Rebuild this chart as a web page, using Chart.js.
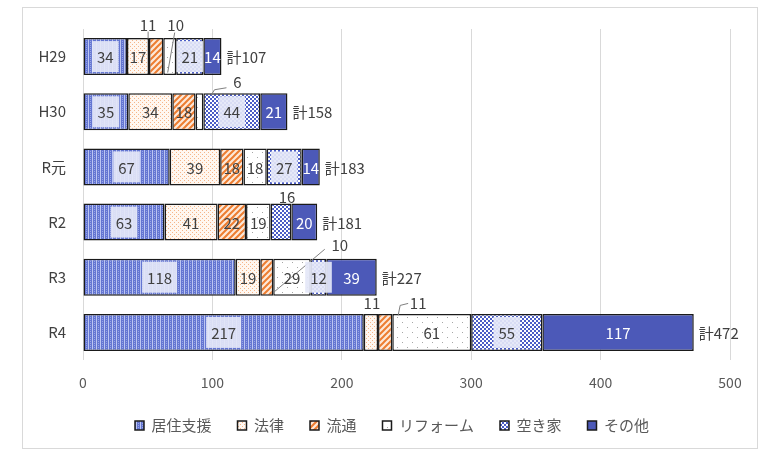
<!DOCTYPE html>
<html>
<head>
<meta charset="utf-8">
<script src="https://cdn.jsdelivr.net/npm/chart.js@4.4.1/dist/chart.umd.min.js"></script>
<style>
  html, body { margin: 0; padding: 0; background: #fff; }
  #wrap { width: 767px; height: 454px; }
</style>
</head>
<body>
<div id="wrap"><canvas id="chart"></canvas></div>
<script>
// values
const years = ['H29', 'H30', 'R元', 'R2', 'R3', 'R4'];
const kyoju = [34, 35, 67, 63, 118, 217];     // 居住支援
const houritsu = [17, 34, 39, 41, 19, 11];    // 法律
const ryutsu = [11, 18, 18, 22, 10, 11];      // 流通
const reform = [10, 6, 18, 19, 29, 61];       // リフォーム
const akiya = [21, 44, 27, 16, 12, 55];       // 空き家
const sonota = [14, 21, 14, 20, 39, 117];     // その他
const xTicks = [0, 100, 200, 300, 400, 500];

const FONT = '"Noto Sans CJK JP", "Noto Sans", sans-serif';

// small helper to build a fill pattern from a tiny tile
function pattern(w, h, draw) {
    const c = document.createElement('canvas');
    c.width = w; c.height = h;
    const g = c.getContext('2d');
    draw(g);
    return g.createPattern(c, 'repeat');
}

const fills = {
    kyoju: pattern(4, 4, g => {
        g.fillStyle = '#6476d2'; g.fillRect(0, 0, 4, 4);
        g.fillStyle = '#bcc5f2'; g.fillRect(0, 0, 1, 4);
        g.fillStyle = '#9aa6e6'; g.fillRect(2, 1, 1, 1); g.fillRect(2, 3, 1, 1);
    }),
    houritsu: pattern(4, 4, g => {
        g.fillStyle = '#fff7f0'; g.fillRect(0, 0, 4, 4);
        g.fillStyle = '#f5b588'; g.fillRect(0, 0, 1, 1); g.fillRect(2, 2, 1, 1);
    }),
    ryutsu: pattern(6, 6, g => {
        g.fillStyle = '#fde9d9'; g.fillRect(0, 0, 6, 6);
        g.strokeStyle = '#ed7d31'; g.lineWidth = 2;
        g.beginPath();
        g.moveTo(-1, 7); g.lineTo(7, -1);
        g.moveTo(-1, 1); g.lineTo(1, -1);
        g.moveTo(5, 7); g.lineTo(7, 5);
        g.stroke();
    }),
    reform: pattern(10, 10, g => {
        g.fillStyle = '#ffffff'; g.fillRect(0, 0, 10, 10);
        g.fillStyle = '#a6a6a6'; g.fillRect(2, 2, 1, 1); g.fillRect(7, 7, 1, 1);
    }),
    akiya: pattern(4, 4, g => {
        g.fillStyle = '#ffffff'; g.fillRect(0, 0, 4, 4);
        g.fillStyle = '#4b5dc6'; g.fillRect(0, 0, 2, 2); g.fillRect(2, 2, 2, 2);
    }),
    sonota: '#4c59b8'
};

// labels that sit outside their segment, offset from the segment centre
const callouts = [
    { ds: 2, idx: 0, dx: -8, dy: -32, line: [[-8, -25], [-8, -18]] },
    { ds: 3, idx: 0, dx: 6, dy: -32, line: [[5, -24], [-2, 16]] },
    { ds: 3, idx: 1, dx: 38, dy: -30, line: [[27, -24], [15, -22], [12, -17]] },
    { ds: 4, idx: 3, dx: 6, dy: -26 },
    { ds: 2, idx: 4, dx: 73, dy: -33, line: [[58, -28], [7, 15]] },
    { ds: 1, idx: 5, dx: 1, dy: -30 },
    { ds: 2, idx: 5, dx: 33, dy: -30, line: [[23, -29], [15, -27], [13, -17]] }
];
const boxed = [true, false, false, false, true, false];
const labelColors = ['#404040', '#404040', '#404040', '#404040', '#404040', '#ffffff'];

const segLabels = {
    id: 'segLabels',
    afterDatasetsDraw(chart) {
        const ctx = chart.ctx;
        ctx.save();
        ctx.font = '15px ' + FONT;
        ctx.textAlign = 'center';
        ctx.textBaseline = 'middle';
        chart.data.datasets.forEach((ds, i) => {
            const meta = chart.getDatasetMeta(i);
            meta.data.forEach((el, j) => {
                const p = el.getProps(['x', 'y', 'base', 'height'], true);
                const cx = (p.x + p.base) / 2;
                const c = callouts.find(o => o.ds === i && o.idx === j);
                const txt = String(ds.data[j]);
                let lx = cx, ly = p.y;
                if (c) {
                    lx += c.dx; ly += c.dy;
                    if (c.line) {
                        ctx.strokeStyle = '#808080';
                        ctx.lineWidth = 1;
                        ctx.beginPath();
                        c.line.forEach((pt, k) => {
                            const fn = k === 0 ? 'moveTo' : 'lineTo';
                            ctx[fn](cx + pt[0], p.y + pt[1]);
                        });
                        ctx.stroke();
                    }
                } else if (boxed[i]) {
                    const w = ctx.measureText(txt).width;
                    ctx.fillStyle = 'rgba(228,231,247,0.92)';
                    ctx.fillRect(lx - w / 2 - 5, p.y - p.height / 2 + 3, w + 10, p.height - 6);
                }
                ctx.fillStyle = c ? '#404040' : labelColors[i];
                ctx.fillText(txt, lx, ly + 1);
            });
        });

        // totals to the right of each bar
        const last = chart.getDatasetMeta(chart.data.datasets.length - 1);
        ctx.textAlign = 'left';
        ctx.fillStyle = '#404040';
        last.data.forEach((el, j) => {
            const total = chart.data.datasets.reduce((s, d) => s + d.data[j], 0);
            ctx.fillText('計' + total, el.x + 5, el.y + 1);
        });
        ctx.restore();
    }
};

const frame = {
    id: 'frame',
    beforeDraw(chart) {
        const ctx = chart.ctx;
        ctx.save();
        ctx.fillStyle = '#ffffff';
        ctx.fillRect(0, 0, chart.width, chart.height);
        ctx.strokeStyle = '#d9d9d9';
        ctx.lineWidth = 1;
        ctx.strokeRect(22.5, 7.5, 735, 441);
        ctx.restore();
    },
    // nudge the legend right so it sits where the reference has it
    afterLayout(chart) {
        if (chart.legend) {
            chart.legend.left += 16;
            chart.legend.right += 16;
        }
    }
};

Chart.defaults.font.family = FONT;
Chart.defaults.color = '#595959';

const series = [
    { label: '居住支援', data: kyoju, fill: fills.kyoju },
    { label: '法律', data: houritsu, fill: fills.houritsu },
    { label: '流通', data: ryutsu, fill: fills.ryutsu },
    { label: 'リフォーム', data: reform, fill: fills.reform },
    { label: '空き家', data: akiya, fill: fills.akiya },
    { label: 'その他', data: sonota, fill: fills.sonota }
];

new Chart(document.getElementById('chart'), {
    type: 'bar',
    data: {
        labels: years,
        datasets: series.map(s => ({
            label: s.label,
            data: s.data,
            backgroundColor: s.fill,
            borderColor: '#1a1a1a',
            borderWidth: 1.5,
            borderSkipped: false,
            barPercentage: 0.67,
            categoryPercentage: 1.0
        }))
    },
    plugins: [frame, segLabels],
    options: {
        indexAxis: 'y',
        responsive: true,
        maintainAspectRatio: false,
        animation: false,
        layout: { padding: { top: 29, right: 37, bottom: 11, left: 22 } },
        plugins: {
            legend: {
                position: 'bottom',
                labels: {
                    boxWidth: 9,
                    boxHeight: 9,
                    padding: 26,
                    color: '#595959',
                    font: { size: 15 }
                }
            },
            tooltip: { enabled: false }
        },
        scales: {
            x: {
                stacked: true,
                min: 0,
                max: 500,
                afterBuildTicks: scale => { scale.ticks = xTicks.map(v => ({ value: v })); },
                afterFit: scale => { scale.height = 32; },
                grid: { color: '#d9d9d9', drawTicks: false },
                border: { display: false },
                ticks: { padding: 14, color: '#595959', font: { size: 14 } }
            },
            y: {
                stacked: true,
                afterFit: scale => { scale.width = 61; },
                grid: { display: false },
                border: { display: false },
                ticks: { padding: 9, color: '#404040', font: { size: 15 } }
            }
        }
    }
});
</script>
</body>
</html>
